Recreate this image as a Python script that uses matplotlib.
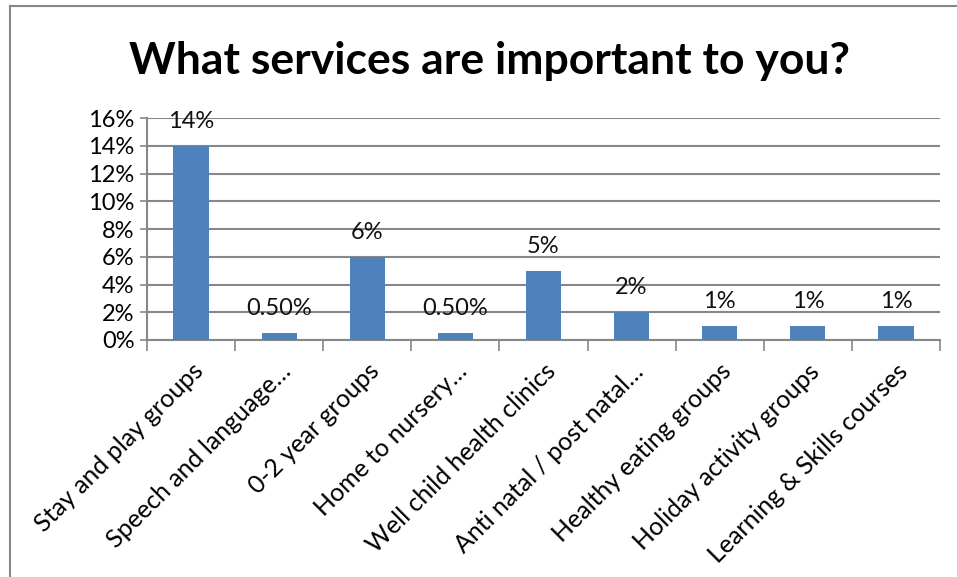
import numpy as np
import matplotlib.pyplot as plt
from matplotlib.lines import Line2D

categories = ["Stay and play groups", "Speech and language…", "0-2 year groups",
              "Home to nursery…", "Well child health clinics", "Anti natal / post natal…",
              "Healthy eating groups", "Holiday activity groups", "Learning & Skills courses"]
values = [14, 0.5, 6, 0.5, 5, 2, 1, 1, 1]
value_labels = ["14%", "0.50%", "6%", "0.50%", "5%", "2%", "1%", "1%", "1%"]
yticks = [0, 2, 4, 6, 8, 10, 12, 14, 16]

plt.rcParams['font.family'] = ['Lato', 'DejaVu Sans']
grey = '#878787'

fig = plt.figure(figsize=(9.57, 5.77), dpi=100)
ax = fig.add_axes([147/957, 1-340/577, (940-147)/957, (340-118)/577])

x = np.arange(len(categories))
ax.bar(x, values, width=0.4, color='#4F81BD', zorder=3)
for xi, v, lab in zip(x, values, value_labels):
    ax.text(xi, v + 1.0, lab, ha='center', va='bottom', fontsize=17, color='#111111', zorder=4)

ax.set_xlim(-0.5, len(categories) - 0.5)
ax.set_ylim(0, 16)
ax.set_yticks(yticks)
ax.set_yticklabels([f"{t}%" for t in yticks], fontsize=17)
ax.yaxis.grid(True, color=grey, linewidth=1.5, zorder=0)
ax.tick_params(axis='y', length=5, width=1.2, color=grey, pad=4)

ax.set_xticks(x)
ax.set_xticklabels(categories, rotation=45, ha='right', rotation_mode='anchor', fontsize=18)
ax.tick_params(axis='x', which='major', length=0, pad=14)
ax.set_xticks(np.arange(len(categories) + 1) - 0.5, minor=True)
ax.tick_params(axis='x', which='minor', length=8, width=1.2, color=grey)

for side in ['top', 'right']:
    ax.spines[side].set_visible(False)
for side in ['left', 'bottom']:
    ax.spines[side].set_color(grey)
    ax.spines[side].set_linewidth(1.5)

fig.text(490/957, 1-61/577, "What services are important to you?", ha='center', va='center',
         fontsize=32, fontweight='bold')

# chart border (top and left only visible)
fig.add_artist(Line2D([10/957, 1], [1-6/577, 1-6/577], color=grey, linewidth=1.5))
fig.add_artist(Line2D([10/957, 10/957], [0, 1-6/577], color=grey, linewidth=1.5))

fig.savefig("out.png", dpi=100)
